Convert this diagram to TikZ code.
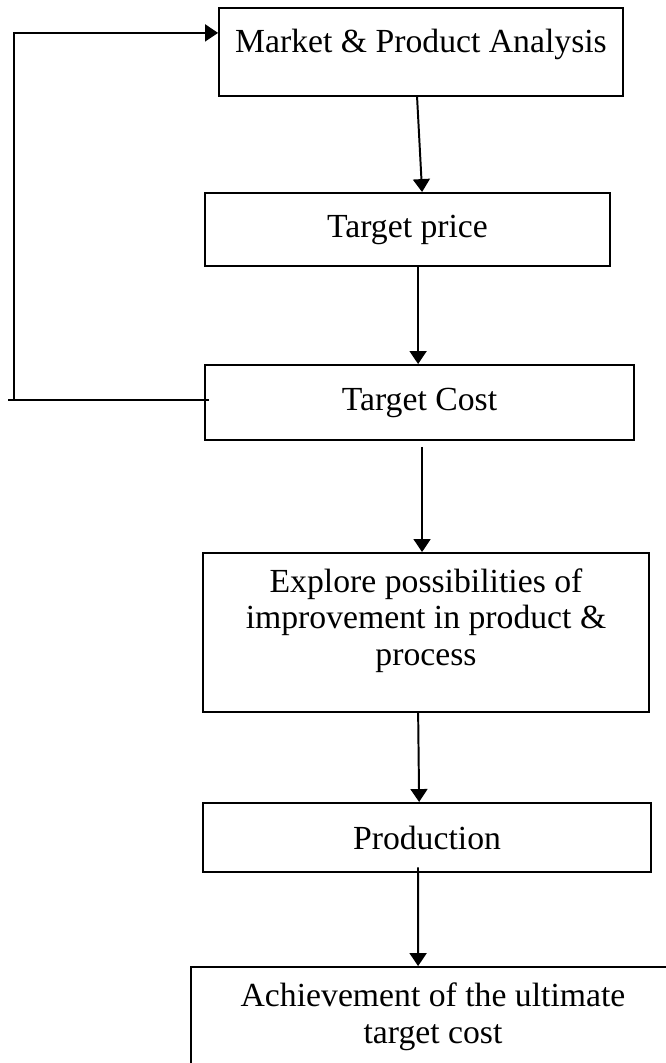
\documentclass[tikz,border=0pt]{standalone}
\usepackage{fontspec}
\setmainfont{Liberation Serif}
\usepackage{tikz}
\usetikzlibrary{positioning,calc,arrows.meta}
\tikzset{
        stagenode/.style={align=center, inner sep=0pt},
        % Boxes of the process
        node_stage/.style={stagenode, rectangle, black, draw=black, line width=0.7pt,
            font=\fontsize{12pt}{13pt}\selectfont},
        % Flow arrows
        edge_flow/.style={line width=0.7pt, -{Triangle[length=4.6pt,width=6pt]}},
        % Plain lines
        edge_plain/.style={line width=0.7pt}
}
\begin{document}
\begin{tikzpicture}[x=0.356pt, y=-0.356pt]
            \useasboundingbox (0,0) rectangle (665,1063);
            \node[node_stage, minimum width=143.8pt, minimum height=31.3pt, text height=8pt, text depth=8pt] (mkt) at (421,52) {Market \& Product Analysis};
            \node[node_stage, minimum width=144.2pt, minimum height=26pt] (price) at (407.5,229.5) {Target price};
            \node[node_stage, minimum width=152.7pt, minimum height=26.7pt] (cost) at (419.5,402.5) {Target Cost};
            \node[node_stage, minimum width=158.8pt, minimum height=56.6pt, text depth=11pt] (explore) at (426,632.5) {Explore possibilities of\\improvement in product \&\\process};
            \node[node_stage, minimum width=159.5pt, minimum height=24.6pt] (prod) at (427,837.5) {Production};
            \node[node_stage, minimum width=172.3pt, minimum height=49.8pt] (achieve) at (433,1037) {Achievement of the ultimate\\target cost\\ \strut};
            % main flow
            \draw[edge_flow] ([xshift=-1.4pt]mkt.south) -- ([xshift=5.2pt]price.north);
            \draw[edge_flow] ([xshift=-0.5pt]price.south -| cost.north) -- ([xshift=-0.5pt]cost.north);
            \draw[edge_flow] ([xshift=-1.4pt,yshift=-2.1pt]explore.north |- cost.south) -- ([xshift=-1.4pt]explore.north);
            \draw[edge_flow] ([xshift=-2.8pt]explore.south) -- ([xshift=-2.8pt]prod.north);
            \draw[edge_flow] ([xshift=-3.2pt,yshift=2pt]prod.south) -- ([xshift=-5.3pt]achieve.north);
            % feedback loop
            \coordinate (loop) at (14,400);
            \draw[edge_plain] ([xshift=1.8pt]loop -| cost.west) -- ([xshift=-2.1pt]loop);
            \draw[edge_flow] (loop) |- ([yshift=6.8pt]mkt.west);
\end{tikzpicture}
\end{document}
